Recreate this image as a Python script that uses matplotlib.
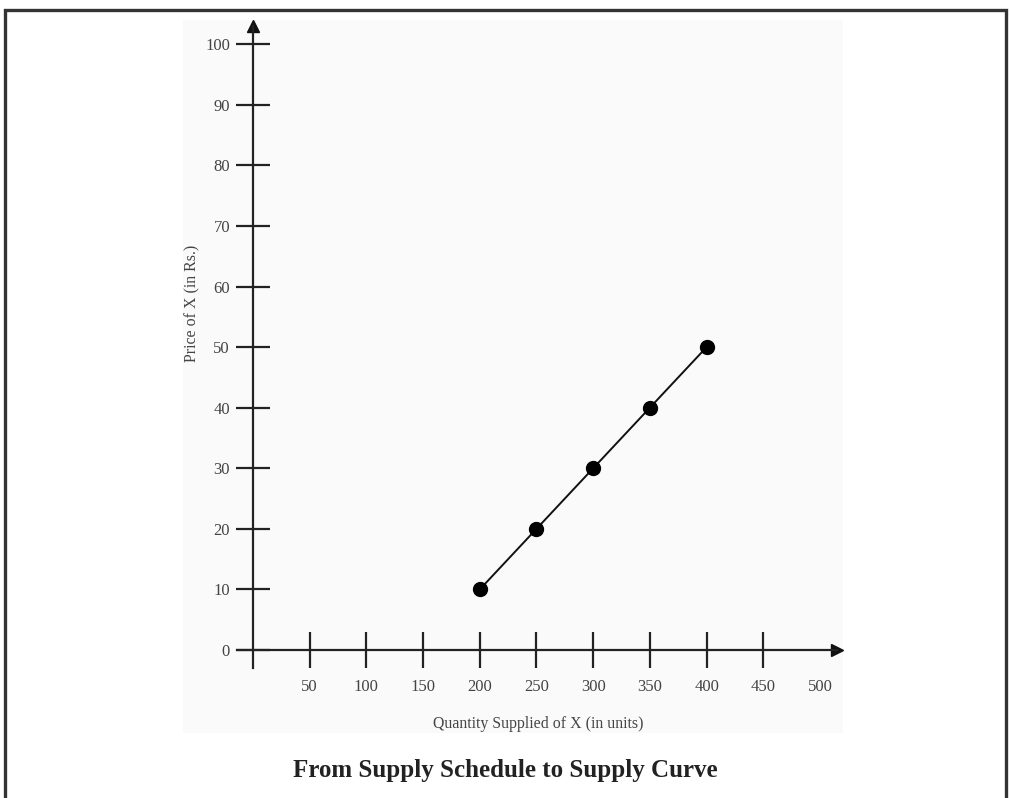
# -*- coding: utf-8 -*-

# load packages =============================================
import matplotlib
matplotlib.use('Agg')
import matplotlib.pyplot as plt
from matplotlib.patches import Rectangle

# data =======================================================
quantity = [200, 250, 300, 350, 400]
price = [10, 20, 30, 40, 50]

x_ticks = [50, 100, 150, 200, 250, 300, 350, 400, 450, 500]
y_ticks = [0, 10, 20, 30, 40, 50, 60, 70, 80, 90, 100]

title = 'From Supply Schedule to Supply Curve'
x_label = 'Quantity Supplied of X (in units)'
y_label = 'Price of X (in Rs.)'

# figure =====================================================
W, H = 1010, 798
fig = plt.figure(figsize=(W / 100, H / 100), dpi=100)
fig.patch.set_facecolor('white')

# page frame (open at the bottom)
fig.add_artist(Rectangle((5 / W, -0.1), (1006 - 5) / W, 1.1 - 10 / H,
                         transform=fig.transFigure, fill=False,
                         edgecolor='#333333', linewidth=2.4))

ax = fig.add_axes([183 / W, 1 - 733 / H, 660 / W, 713 / H])
ax.set_facecolor('#fafafa')
ax.set_xlim(-61.7, 520.3)
ax.set_ylim(-13.7, 104.0)

# axes through the origin ====================================
for s in ['top', 'right']:
    ax.spines[s].set_visible(False)
ax.spines['left'].set_position(('data', 0))
ax.spines['bottom'].set_position(('data', 0))
ax.spines['left'].set_bounds(-3, 103)
ax.spines['bottom'].set_bounds(-14, 515)
for s in ['left', 'bottom']:
    ax.spines[s].set_linewidth(1.6)
    ax.spines[s].set_color('#222222')

ax.plot(515, 0, '>', color='#111111', markersize=8, clip_on=False)
ax.plot(0, 103, '^', color='#111111', markersize=8, clip_on=False)

serif = 'Liberation Serif'
ax.set_xticks(x_ticks)
ax.set_yticks(y_ticks)
ax.set_xticklabels([str(v) for v in x_ticks], family=serif, fontsize=12, color='#444444')
ax.set_yticklabels([str(v) for v in y_ticks], family=serif, fontsize=12, color='#444444')
ax.tick_params(axis='x', direction='inout', length=26, width=1.6, color='#222222', pad=8)
ax.tick_params(axis='y', direction='inout', length=25, width=1.6, color='#222222', pad=4)
ax.xaxis.get_major_ticks()[-1].tick1line.set_visible(False)

# supply curve ===============================================
ax.plot(quantity, price, color='#111111', linewidth=1.4,
        marker='o', markersize=10, markerfacecolor='black', markeredgecolor='black')

ax.set_xlabel(x_label, family=serif, fontsize=11.4, color='#444444')
ax.xaxis.set_label_coords(0.538, 0.024)
ax.set_ylabel(y_label, family=serif, fontsize=11.4, color='#444444')
ax.yaxis.set_label_coords(0.026, 0.603)

fig.text(505 / W, 1 - 771 / H, title, family=serif, fontweight='bold',
         fontsize=18, color='#222222', ha='center', va='center')

fig.savefig('out.png', dpi=100)
